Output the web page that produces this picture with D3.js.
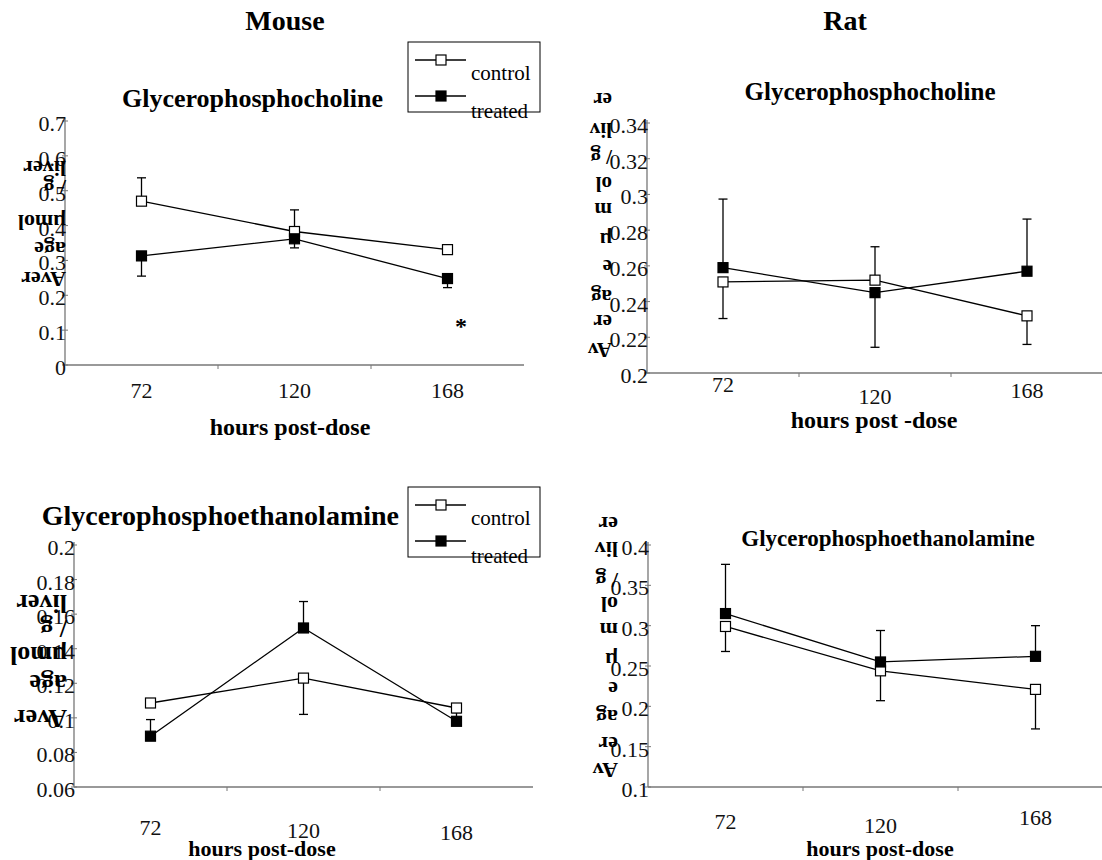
<!DOCTYPE html>
<html>
<head>
<meta charset="utf-8">
<script src="https://cdn.jsdelivr.net/npm/d3@7"></script>
<style>
  body { margin: 0; background: #fff; }
</style>
</head>
<body>
<svg id="chart" width="1102" height="860" font-family="'Liberation Serif', 'Times New Roman', serif"></svg>
<script>
// hours post-dose (categories shared by all four panels)
const hours = ["72", "120", "168"];

// Mouse - glycerophosphocholine
const mouse_gpc_control = [0.47, 0.383, 0.331];
const mouse_gpc_treated = [0.313, 0.362, 0.248];
// error bars are one-sided in the original: + is drawn up, - is drawn down
const mouse_gpc_control_err = [0.067, 0.062, 0];
const mouse_gpc_treated_err = [-0.058, -0.026, -0.026];
const mouse_gpc_ticks = ["0", "0.1", "0.2", "0.3", "0.4", "0.5", "0.6", "0.7"];

// Rat - glycerophosphocholine
const rat_gpc_control = [0.251, 0.252, 0.232];
const rat_gpc_treated = [0.259, 0.245, 0.257];
const rat_gpc_control_err = [-0.0205, 0.0187, -0.016];
const rat_gpc_treated_err = [0.0384, -0.0306, 0.0292];
const rat_gpc_ticks = ["0.2", "0.22", "0.24", "0.26", "0.28", "0.3", "0.32", "0.34"];

// Mouse - glycerophosphoethanolamine
const mouse_gpe_control = [0.1086, 0.123, 0.1057];
const mouse_gpe_treated = [0.0894, 0.152, 0.098];
const mouse_gpe_control_err = [0, -0.021, 0];
const mouse_gpe_treated_err = [0.0096, 0.0153, 0.005];
const mouse_gpe_ticks = ["0.06", "0.08", "0.1", "0.12", "0.14", "0.16", "0.18", "0.2"];

// Rat - glycerophosphoethanolamine
const rat_gpe_control = [0.299, 0.244, 0.221];
const rat_gpe_treated = [0.315, 0.255, 0.262];
const rat_gpe_control_err = [-0.031, -0.037, -0.049];
const rat_gpe_treated_err = [0.061, 0.039, 0.038];
const rat_gpe_ticks = ["0.1", "0.15", "0.2", "0.25", "0.3", "0.35", "0.4"];

// the y titles came out of the original as upside-down word pieces stacked up
const mouse_ylabel_pieces = ["Aver", "age", "\u00b5mol", "/ g", "liver"];
const rat_ylabel_pieces = ["Av", "er", "ag", "e", "\u00b5", "m", "ol", "/ g", "liv", "er"];

const svg = d3.select("#chart");

chart = {
  panels: [
    {
      title: "Glycerophosphocholine", title_x: 383, title_y: 107, title_anchor: "end", title_size: 26,
      x0: 65, x1: 524, y0: 365, y1: 121, domain: [0, 0.7], ticks: mouse_gpc_ticks,
      control: mouse_gpc_control, treated: mouse_gpc_treated,
      control_err: mouse_gpc_control_err, treated_err: mouse_gpc_treated_err,
      xlab_y: [398, 398, 398], xtitle: "hours post-dose", xtitle_x: 290, xtitle_y: 435, xtitle_size: 24,
      ylabel: mouse_ylabel_pieces, ylabel_x: 66, ylabel_size: 22,
      ylabel_y: [272, 242, 215, 180, 161],
      legend: { x: 408, y: 42 }, star: { x: 461, y: 334 }
    },
    {
      title: "Glycerophosphocholine", title_x: 870, title_y: 100, title_anchor: "middle", title_size: 25,
      x0: 647, x1: 1103, y0: 373, y1: 123, domain: [0.2, 0.34], ticks: rat_gpc_ticks,
      control: rat_gpc_control, treated: rat_gpc_treated,
      control_err: rat_gpc_control_err, treated_err: rat_gpc_treated_err,
      xlab_y: [392, 404, 398], xtitle: "hours post -dose", xtitle_x: 874, xtitle_y: 428, xtitle_size: 24,
      ylabel: rat_ylabel_pieces, ylabel_x: 612, ylabel_size: 21,
      ylabel_y: [343, 315, 290, 260, 233, 203, 177, 150, 123, 93]
    },
    {
      title: "Glycerophosphoethanolamine", title_x: 399, title_y: 525, title_anchor: "end", title_size: 28,
      x0: 74, x1: 533, y0: 787, y1: 545, domain: [0.06, 0.2], ticks: mouse_gpe_ticks,
      control: mouse_gpe_control, treated: mouse_gpe_treated,
      control_err: mouse_gpe_control_err, treated_err: mouse_gpe_treated_err,
      xlab_y: [835, 838, 840], xtitle: "hours post-dose", xtitle_x: 262, xtitle_y: 856, xtitle_size: 22,
      ylabel: mouse_ylabel_pieces, ylabel_x: 67, ylabel_size: 26,
      ylabel_y: [710, 675, 647, 620, 595],
      legend: { x: 408, y: 487 }
    },
    {
      title: "Glycerophosphoethanolamine", title_x: 888, title_y: 546, title_anchor: "middle", title_size: 23,
      x0: 648, x1: 1113, y0: 787, y1: 545, domain: [0.1, 0.4], ticks: rat_gpe_ticks,
      control: rat_gpe_control, treated: rat_gpe_treated,
      control_err: rat_gpe_control_err, treated_err: rat_gpe_treated_err,
      xlab_y: [829, 833, 825], xtitle: "hours post-dose", xtitle_x: 880, xtitle_y: 856, xtitle_size: 22,
      ylabel: rat_ylabel_pieces, ylabel_x: 618, ylabel_size: 22,
      ylabel_y: [763, 737, 710, 682, 653, 623, 597, 573, 542, 517]
    }
  ],

  draw_panel: (p) => {
    const g = svg.append("g");
    const x = d3.scaleBand().domain(hours).range([p.x0, p.x1]);
    const y = d3.scaleLinear().domain(p.domain).range([p.y0, p.y1]);
    const cx = (d) => x(d) + x.bandwidth() / 2;

    // y axis: line, small ticks, labels butting against the axis
    const yTicks = p.ticks.map(Number);
    g.append("line").attr("x1", p.x0).attr("x2", p.x0).attr("y1", y(p.domain[1]) - 3).attr("y2", p.y0)
      .attr("stroke", "#777").attr("stroke-width", 1.3);
    g.selectAll(".ytick").data(yTicks).enter().append("line")
      .attr("x1", p.x0 - 3).attr("x2", p.x0 + 3)
      .attr("y1", d => y(d)).attr("y2", d => y(d))
      .attr("stroke", "#777").attr("stroke-width", 1);
    g.selectAll(".ylab").data(p.ticks).enter().append("text")
      .attr("x", p.x0 + 1).attr("y", d => y(+d) + 10)
      .attr("text-anchor", "end").attr("font-size", 22).attr("fill", "#111")
      .text(d => d);

    // x axis: line with ticks on the category boundaries
    g.append("line").attr("x1", p.x0).attr("x2", p.x1).attr("y1", p.y0).attr("y2", p.y0)
      .attr("stroke", "#777").attr("stroke-width", 1.3);
    g.selectAll(".xtick").data(hours.slice(1)).enter().append("line")
      .attr("x1", d => x(d)).attr("x2", d => x(d))
      .attr("y1", p.y0).attr("y2", p.y0 + 4)
      .attr("stroke", "#777").attr("stroke-width", 1);
    g.selectAll(".xlab").data(hours).enter().append("text")
      .attr("x", cx).attr("y", (d, i) => p.xlab_y[i])
      .attr("text-anchor", "middle").attr("font-size", 22).attr("fill", "#111")
      .text(d => d);
    g.append("text").attr("x", p.xtitle_x).attr("y", p.xtitle_y)
      .attr("text-anchor", "middle").attr("font-size", p.xtitle_size).attr("font-weight", "bold")
      .text(p.xtitle);

    // panel title
    g.append("text").attr("x", p.title_x).attr("y", p.title_y)
      .attr("text-anchor", p.title_anchor).attr("font-size", p.title_size).attr("font-weight", "bold")
      .text(p.title);

    // upside-down y title pieces (right edge sits at ylabel_x after the flip)
    p.ylabel.forEach((t, i) => {
      g.append("text")
        .attr("transform", `translate(${p.ylabel_x},${p.ylabel_y[i]}) rotate(180)`)
        .attr("font-size", p.ylabel_size).attr("font-weight", "bold")
        .text(t);
    });

    // series: error bars first, then lines and markers
    const series = [
      { vals: p.control, err: p.control_err, fill: "#fff" },
      { vals: p.treated, err: p.treated_err, fill: "#000" }
    ];
    series.forEach(s => {
      hours.forEach((h, i) => {
        if (!s.err[i]) return;
        const yEnd = y(s.vals[i] + s.err[i]);
        g.append("line").attr("x1", cx(h)).attr("x2", cx(h))
          .attr("y1", y(s.vals[i])).attr("y2", yEnd)
          .attr("stroke", "#000").attr("stroke-width", 1.3);
        g.append("line").attr("x1", cx(h) - 4.5).attr("x2", cx(h) + 4.5)
          .attr("y1", yEnd).attr("y2", yEnd)
          .attr("stroke", "#000").attr("stroke-width", 1.3);
      });
    });
    series.forEach(s => {
      const line = d3.line().x((d, i) => cx(hours[i])).y(d => y(d));
      g.append("path").attr("d", line(s.vals))
        .attr("fill", "none").attr("stroke", "#000").attr("stroke-width", 1.3);
    });
    series.forEach(s => {
      g.selectAll(null).data(s.vals).enter().append("rect")
        .attr("x", (d, i) => cx(hours[i]) - 5).attr("y", d => y(d) - 5)
        .attr("width", 10).attr("height", 10)
        .attr("fill", s.fill).attr("stroke", "#000").attr("stroke-width", 1.2);
    });

    if (p.legend) chart.draw_legend(p.legend);
    if (p.star) {
      g.append("text").attr("x", p.star.x).attr("y", p.star.y)
        .attr("text-anchor", "middle").attr("font-size", 24).attr("font-weight", "bold")
        .text("*");
    }
  },

  draw_legend: (pos) => {
    const g = svg.append("g").attr("transform", `translate(${pos.x},${pos.y})`);
    g.append("rect").attr("width", 132).attr("height", 70)
      .attr("fill", "#fff").attr("stroke", "#000").attr("stroke-width", 1);
    const items = [
      { name: "control", fill: "#fff", y: 18, ty: 38 },
      { name: "treated", fill: "#000", y: 54, ty: 76 }
    ];
    items.forEach(it => {
      g.append("line").attr("x1", 7).attr("x2", 58).attr("y1", it.y).attr("y2", it.y)
        .attr("stroke", "#000").attr("stroke-width", 1.3);
      g.append("rect").attr("x", 28).attr("y", it.y - 5).attr("width", 10).attr("height", 10)
        .attr("fill", it.fill).attr("stroke", "#000").attr("stroke-width", 1.2);
      g.append("text").attr("x", 63).attr("y", it.ty).attr("font-size", 21)
        .text(it.name);
    });
  },

  draw: () => {
    svg.append("text").attr("x", 285).attr("y", 30).attr("text-anchor", "middle")
      .attr("font-size", 28).attr("font-weight", "bold").text("Mouse");
    svg.append("text").attr("x", 845).attr("y", 30).attr("text-anchor", "middle")
      .attr("font-size", 28).attr("font-weight", "bold").text("Rat");
    chart.panels.forEach(chart.draw_panel);
  }
};

chart.draw();
</script>
</body>
</html>
